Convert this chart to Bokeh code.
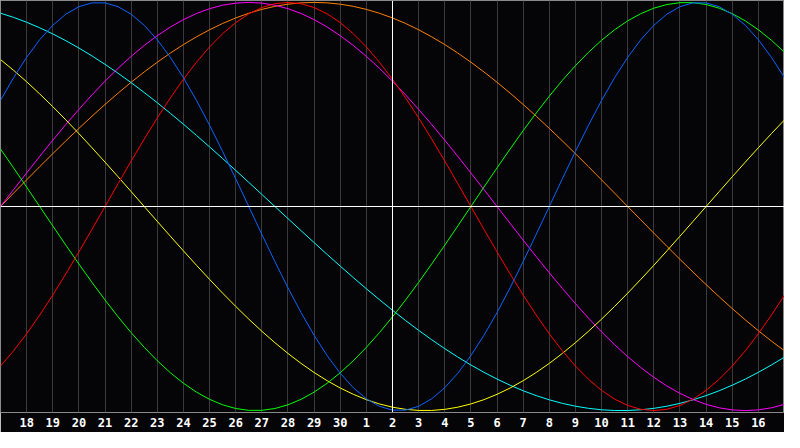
from bokeh.plotting import figure
from bokeh.models import Range1d, Span, FixedTicker
from bokeh.embed import file_html
from bokeh.resources import INLINE

# Tick labels (day of month) under the grid lines; the chart starts on the 17th
tick_labels = ["18", "19", "20", "21", "22", "23", "24", "25", "26", "27", "28",
               "29", "30", "1", "2", "3", "4", "5", "6", "7", "8", "9", "10",
               "11", "12", "13", "14", "15", "16"]
today_label = "2"  # highlighted day (white vertical line)

# Sample times: days after the 17th, every half day
t = [k * 0.5 for k in range(61)]

# Cycle values (range -1 .. 1) at each half day
blue = [0.5196, 0.6311, 0.7308, 0.8170, 0.8879, 0.9423, 0.9791, 0.9977, 0.9977,
        0.9791, 0.9423, 0.8879, 0.8170, 0.7308, 0.6311, 0.5196, 0.3984, 0.2698,
        0.1362, 0.0, -0.1362, -0.2698, -0.3984, -0.5196, -0.6311, -0.7308,
        -0.8170, -0.8879, -0.9423, -0.9791, -0.9977, -0.9977, -0.9791, -0.9423,
        -0.8879, -0.8170, -0.7308, -0.6311, -0.5196, -0.3984, -0.2698, -0.1362,
        0.0, 0.1362, 0.2698, 0.3984, 0.5196, 0.6311, 0.7308, 0.8170, 0.8879,
        0.9423, 0.9791, 0.9977, 0.9977, 0.9791, 0.9423, 0.8879, 0.8170, 0.7308,
        0.6311]
red = [-0.7818, -0.7071, -0.6235, -0.5320, -0.4339, -0.3303, -0.2225, -0.1120,
       0.0, 0.1120, 0.2225, 0.3303, 0.4339, 0.5320, 0.6235, 0.7071, 0.7818,
       0.8467, 0.9010, 0.9439, 0.9749, 0.9937, 1.0, 0.9937, 0.9749, 0.9439,
       0.9010, 0.8467, 0.7818, 0.7071, 0.6235, 0.5320, 0.4339, 0.3303, 0.2225,
       0.1120, 0.0, -0.1120, -0.2225, -0.3303, -0.4339, -0.5320, -0.6235,
       -0.7071, -0.7818, -0.8467, -0.9010, -0.9439, -0.9749, -0.9937, -1.0,
       -0.9937, -0.9749, -0.9439, -0.9010, -0.8467, -0.7818, -0.7071, -0.6235,
       -0.5320, -0.4339]
green = [0.2817, 0.1893, 0.0951, 0.0, -0.0951, -0.1893, -0.2817, -0.3717,
         -0.4582, -0.5406, -0.6182, -0.6901, -0.7557, -0.8146, -0.8660, -0.9096,
         -0.9450, -0.9718, -0.9898, -0.9989, -0.9989, -0.9898, -0.9718, -0.9450,
         -0.9096, -0.8660, -0.8146, -0.7557, -0.6901, -0.6182, -0.5406, -0.4582,
         -0.3717, -0.2817, -0.1893, -0.0951, 0.0, 0.0951, 0.1893, 0.2817, 0.3717,
         0.4582, 0.5406, 0.6182, 0.6901, 0.7557, 0.8146, 0.8660, 0.9096, 0.9450,
         0.9718, 0.9898, 0.9989, 0.9989, 0.9898, 0.9718, 0.9450, 0.9096, 0.8660,
         0.8146, 0.7557]
magenta = [0.0, 0.0826, 0.1646, 0.2455, 0.3247, 0.4017, 0.4759, 0.5469, 0.6142,
           0.6773, 0.7357, 0.7891, 0.8372, 0.8795, 0.9158, 0.9458, 0.9694, 0.9864,
           0.9966, 1.0, 0.9966, 0.9864, 0.9694, 0.9458, 0.9158, 0.8795, 0.8372,
           0.7891, 0.7357, 0.6773, 0.6142, 0.5469, 0.4759, 0.4017, 0.3247, 0.2455,
           0.1646, 0.0826, 0.0, -0.0826, -0.1646, -0.2455, -0.3247, -0.4017,
           -0.4759, -0.5469, -0.6142, -0.6773, -0.7357, -0.7891, -0.8372, -0.8795,
           -0.9158, -0.9458, -0.9694, -0.9864, -0.9966, -1.0, -0.9966, -0.9864,
           -0.9694]
yellow = [0.7199, 0.6673, 0.6112, 0.5518, 0.4894, 0.4245, 0.3572, 0.2881, 0.2174,
          0.1456, 0.0730, 0.0, -0.0730, -0.1456, -0.2174, -0.2881, -0.3572,
          -0.4245, -0.4894, -0.5518, -0.6112, -0.6673, -0.7199, -0.7687, -0.8133,
          -0.8536, -0.8894, -0.9203, -0.9464, -0.9675, -0.9834, -0.9940, -0.9993,
          -0.9993, -0.9940, -0.9834, -0.9675, -0.9464, -0.9203, -0.8894, -0.8536,
          -0.8133, -0.7687, -0.7199, -0.6673, -0.6112, -0.5518, -0.4894, -0.4245,
          -0.3572, -0.2881, -0.2174, -0.1456, -0.0730, 0.0, 0.0730, 0.1456,
          0.2174, 0.2881, 0.3572, 0.4245]
orange = [0.0, 0.0654, 0.1305, 0.1951, 0.2588, 0.3214, 0.3827, 0.4423, 0.5,
          0.5556, 0.6088, 0.6593, 0.7071, 0.7518, 0.7934, 0.8315, 0.8660, 0.8969,
          0.9239, 0.9469, 0.9659, 0.9808, 0.9914, 0.9979, 1.0, 0.9979, 0.9914,
          0.9808, 0.9659, 0.9469, 0.9239, 0.8969, 0.8660, 0.8315, 0.7934, 0.7518,
          0.7071, 0.6593, 0.6088, 0.5556, 0.5, 0.4423, 0.3827, 0.3214, 0.2588,
          0.1951, 0.1305, 0.0654, 0.0, -0.0654, -0.1305, -0.1951, -0.2588,
          -0.3214, -0.3827, -0.4423, -0.5, -0.5556, -0.6088, -0.6593, -0.7071]
cyan = [0.9473, 0.9267, 0.9028, 0.8757, 0.8456, 0.8125, 0.7765, 0.7378, 0.6966,
        0.6528, 0.6068, 0.5586, 0.5085, 0.4566, 0.4031, 0.3482, 0.2921, 0.2349,
        0.1769, 0.1183, 0.0592, 0.0, -0.0592, -0.1183, -0.1769, -0.2349, -0.2921,
        -0.3482, -0.4031, -0.4566, -0.5085, -0.5586, -0.6068, -0.6528, -0.6966,
        -0.7378, -0.7765, -0.8125, -0.8456, -0.8757, -0.9028, -0.9267, -0.9473,
        -0.9646, -0.9786, -0.9890, -0.9961, -0.9996, -0.9996, -0.9961, -0.9890,
        -0.9786, -0.9646, -0.9473, -0.9267, -0.9028, -0.8757, -0.8456, -0.8125,
        -0.7765, -0.7378]

ticks = list(range(1, 1 + len(tick_labels)))
today_x = ticks[tick_labels.index(today_label, 13)]

BG = "#050508"
p = figure(width=784, height=432,
           x_range=Range1d(0, 30), y_range=Range1d(-1.0094, 1.0094),
           output_backend="svg", toolbar_location=None, y_axis_location=None,
           min_border_left=0, min_border_right=0, min_border_top=0,
           min_border_bottom=20)
p.background_fill_color = BG
p.border_fill_color = BG
p.outline_line_color = "#8a8a8a"
p.outline_line_width = 1

p.xaxis.ticker = FixedTicker(ticks=ticks)
p.xaxis.major_label_overrides = {tk: lab for tk, lab in zip(ticks, tick_labels)}
p.xaxis.axis_line_color = None
p.xaxis.major_tick_line_color = None
p.xaxis.minor_tick_line_color = None
p.xaxis.major_tick_out = 0
p.xaxis.major_tick_in = 0
p.xaxis.major_label_standoff = 5
p.xaxis.major_label_text_color = "white"
p.xaxis.major_label_text_font = "DejaVu Sans Mono"
p.xaxis.major_label_text_font_style = "bold"
p.xaxis.major_label_text_font_size = "12px"

p.xgrid.ticker = FixedTicker(ticks=ticks)
p.xgrid.grid_line_color = "#3a3a3a"
p.xgrid.grid_line_width = 1
p.ygrid.grid_line_color = None

p.add_layout(Span(location=0, dimension="width", line_color="white", line_width=1))
p.add_layout(Span(location=today_x, dimension="height", line_color="white", line_width=1))

for ys, col in [(orange, "#ff8000"), (cyan, "#00ffff"), (yellow, "#ffff00"),
                (magenta, "#ff00ff"), (green, "#00ff00"), (red, "#ff0000"),
                (blue, "#0a64ff")]:
    p.line(t, ys, line_color=col, line_width=1)

open("out.html", "w").write(file_html(p, INLINE))
